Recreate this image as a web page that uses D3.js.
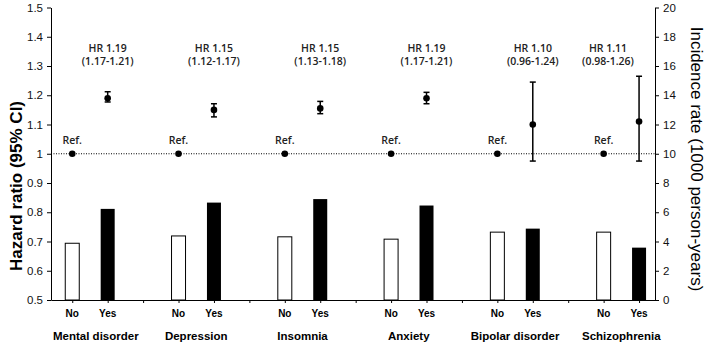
<!DOCTYPE html>
<html>
<head>
<meta charset="utf-8">
<script src="https://cdn.jsdelivr.net/npm/d3@7"></script>
<style>
  body { margin: 0; background: #fff; }
  svg { display: block; font-family: "Liberation Sans", Arial, sans-serif; }
</style>
</head>
<body>
<svg id="chart" width="708" height="345"></svg>
<script>
const groups = ['Mental disorder', 'Depression', 'Insomnia', 'Anxiety', 'Bipolar disorder', 'Schizophrenia'];
const statusLabels = ['No', 'Yes'];
const hrText = ['HR 1.19', 'HR 1.15', 'HR 1.15', 'HR 1.19', 'HR 1.10', 'HR 1.11'];
const ciText = ['(1.17-1.21)', '(1.12-1.17)', '(1.13-1.18)', '(1.17-1.21)', '(0.96-1.24)', '(0.98-1.26)'];
const hr = [1.19, 1.15, 1.155, 1.19, 1.10, 1.11];
const ciLow = [1.177, 1.126, 1.137, 1.171, 0.975, 0.975];
const ciHigh = [1.212, 1.171, 1.179, 1.21, 1.245, 1.265];
const incidenceNo = [3.88, 4.38, 4.32, 4.16, 4.64, 4.64];
const incidenceYes = [6.23, 6.66, 6.9, 6.46, 4.88, 3.58];
const hrTicks = d3.range(0.5, 1.501, 0.1);
const rateTicks = d3.range(0, 21, 2);

const svg = d3.select('#chart');
const plotLeft = 51, plotRight = 655, plotTop = 7.5, plotBottom = 300;

// each group takes 3 slots: No, Yes, gap
const x = d3.scaleLinear().domain([-0.6, 16.45]).range([plotLeft, plotRight]);
const yHR = d3.scaleLinear().domain([0.5, 1.5]).range([plotBottom, plotTop]);
const yRate = d3.scaleLinear().domain([0, 20]).range([plotBottom, plotTop]);
const slotNo = i => i * 3;
const slotYes = i => i * 3 + 1;
const barW = 14;

// bars
svg.append('g').selectAll('rect').data(incidenceNo).join('rect')
	.attr('x', (d, i) => x(slotNo(i)) - barW / 2)
	.attr('y', d => yRate(d))
	.attr('width', barW)
	.attr('height', d => yRate(0) - yRate(d))
	.attr('fill', '#fff')
	.attr('stroke', '#000')
	.attr('stroke-width', 1);

svg.append('g').selectAll('rect').data(incidenceYes).join('rect')
	.attr('x', (d, i) => x(slotYes(i)) - barW / 2)
	.attr('y', d => yRate(d))
	.attr('width', barW)
	.attr('height', d => yRate(0) - yRate(d))
	.attr('fill', '#000');

// reference line at HR = 1
svg.append('line')
	.attr('x1', plotLeft).attr('x2', plotRight)
	.attr('y1', yHR(1)).attr('y2', yHR(1))
	.attr('stroke', '#000')
	.attr('stroke-width', 1)
	.attr('stroke-dasharray', '1,1.5');

// axes
const leftAxis = svg.append('g')
	.attr('transform', `translate(${plotLeft},0)`)
	.call(d3.axisLeft(yHR).tickValues(hrTicks).tickFormat(d3.format('~g')).tickSize(4).tickSizeOuter(0));
const rightAxis = svg.append('g')
	.attr('transform', `translate(${plotRight},0)`)
	.call(d3.axisRight(yRate).tickValues(rateTicks).tickSize(4).tickSizeOuter(0));
const bottomAxis = svg.append('g')
	.attr('transform', `translate(0,${plotBottom})`)
	.call(d3.axisBottom(x).tickValues(d3.range(0, 17)).tickFormat('').tickSize(3).tickSizeOuter(0));

[leftAxis, rightAxis, bottomAxis].forEach(a => {
	a.selectAll('text').attr('font-size', 11.5).attr('font-family', '"Liberation Sans", Arial, sans-serif').attr('fill', '#111');
	a.selectAll('path, line').attr('stroke', '#000');
});
leftAxis.selectAll('text').attr('x', -8);
rightAxis.selectAll('text').attr('x', 8);

// reference points
svg.append('g').selectAll('circle').data(groups).join('circle')
	.attr('cx', (d, i) => x(slotNo(i)))
	.attr('cy', yHR(1))
	.attr('r', 3.3)
	.attr('fill', '#000');

svg.append('g').selectAll('text').data(groups).join('text')
	.attr('x', (d, i) => x(slotNo(i)))
	.attr('y', 144)
	.attr('text-anchor', 'middle')
	.attr('font-family', '"Open Sans", sans-serif')
	.attr('font-size', 10.5)
	.attr('font-weight', 600)
	.attr('fill', '#222')
	.text('Ref.');

// hazard ratio points with CI
const hrGroup = svg.append('g').selectAll('g').data(groups).join('g')
	.attr('transform', (d, i) => `translate(${x(slotYes(i))},0)`);
hrGroup.append('line')
	.attr('y1', (d, i) => yHR(ciLow[i])).attr('y2', (d, i) => yHR(ciHigh[i]))
	.attr('stroke', '#000').attr('stroke-width', 1.5);
hrGroup.append('line')
	.attr('x1', -3).attr('x2', 3)
	.attr('y1', (d, i) => yHR(ciLow[i])).attr('y2', (d, i) => yHR(ciLow[i]))
	.attr('stroke', '#000').attr('stroke-width', 1.5);
hrGroup.append('line')
	.attr('x1', -3).attr('x2', 3)
	.attr('y1', (d, i) => yHR(ciHigh[i])).attr('y2', (d, i) => yHR(ciHigh[i]))
	.attr('stroke', '#000').attr('stroke-width', 1.5);
hrGroup.append('circle')
	.attr('cy', (d, i) => yHR(hr[i]))
	.attr('r', 3.3)
	.attr('fill', '#000');

// HR annotation, kept inside the right axis
const hrLabel = svg.append('g').selectAll('text').data(groups).join('text')
	.attr('text-anchor', 'middle')
	.attr('font-family', '"Open Sans", sans-serif')
	.attr('font-size', 10.5)
	.attr('font-weight', 600)
	.attr('fill', '#222');
hrLabel.append('tspan').attr('dy', 0).text((d, i) => hrText[i]);
hrLabel.append('tspan').attr('dy', 13).text((d, i) => ciText[i]);
hrLabel.attr('y', 52).each(function(d, i) {
	const w = this.getBBox().width;
	const cx = Math.min(x(slotYes(i)), plotRight - 2 - w / 2);
	d3.select(this).selectAll('tspan').attr('x', cx);
});

// No / Yes labels
groups.forEach((g, i) => {
	[slotNo(i), slotYes(i)].forEach((s, j) => {
		svg.append('text')
			.attr('x', x(s))
			.attr('y', 317)
			.attr('text-anchor', 'middle')
			.attr('font-size', 10)
			.attr('font-weight', 'bold')
			.text(statusLabels[j]);
	});
});

// group labels
svg.append('g').selectAll('text').data(groups).join('text')
	.attr('y', 340)
	.attr('text-anchor', 'middle')
	.attr('font-size', 11.5)
	.attr('font-weight', 'bold')
	.text(d => d)
	.attr('x', function(d, i) {
		const mid = (x(slotNo(i)) + x(slotYes(i))) / 2;
		const w = this.getComputedTextLength();
		return Math.max(mid, plotLeft + 2 + w / 2);
	});

// axis titles
svg.append('text')
	.attr('transform', 'translate(22,186) rotate(-90)')
	.attr('text-anchor', 'middle')
	.attr('font-size', 17)
	.attr('font-weight', 'bold')
	.text('Hazard ratio (95% CI)');

svg.append('text')
	.attr('transform', 'translate(691,159) rotate(90)')
	.attr('text-anchor', 'middle')
	.attr('font-size', 17)
	.text('Incidence rate (1000 person-years)');
</script>
</body>
</html>
